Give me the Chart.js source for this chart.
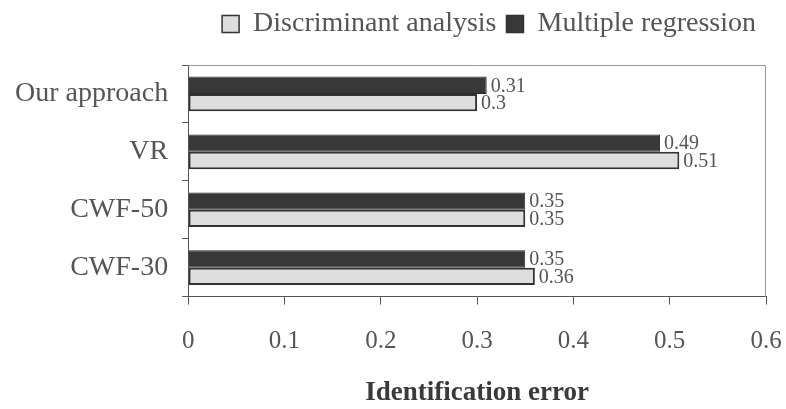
<!DOCTYPE html>
<html>
<head>
<meta charset="utf-8">
<script src="https://cdn.jsdelivr.net/npm/chart.js@4"></script>
<style>
  html, body { margin: 0; padding: 0; background: #fff; }
  #wrap { width: 786px; height: 409px; }
</style>
</head>
<body>
<div id="wrap"><canvas id="error-bar-chart"></canvas></div>
<script>
var categories = ['Our approach', 'VR', 'CWF-50', 'CWF-30'];
var discriminant = [0.3, 0.51, 0.35, 0.36];
var regression = [0.31, 0.49, 0.35, 0.35];
var xTicks = [0, 0.1, 0.2, 0.3, 0.4, 0.5, 0.6];

var serif = 'Liberation Serif';

// a little more room between legend and plot
var legendGap = {
    id: 'legendGap',
    beforeInit: function (chart) {
        var fit = chart.legend.fit;
        chart.legend.fit = function () {
            fit.call(this);
            this.height += 17;
        };
    }
};

// values printed at the end of every bar, plus the thin frame round the plot
var barLabels = {
    id: 'barLabels',
    afterDatasetsDraw: function (chart) {
        var ctx = chart.ctx;
        var area = chart.chartArea;
        ctx.save();
        ctx.strokeStyle = '#9a9a9a';
        ctx.lineWidth = 1;
        ctx.beginPath();
        ctx.moveTo(area.left, area.top + 0.5);
        ctx.lineTo(area.right - 0.5, area.top + 0.5);
        ctx.lineTo(area.right - 0.5, area.bottom);
        ctx.stroke();

        ctx.font = '20px "' + serif + '"';
        ctx.fillStyle = '#555';
        ctx.textAlign = 'left';
        ctx.textBaseline = 'middle';
        chart.data.datasets.forEach(function (ds, i) {
            chart.getDatasetMeta(i).data.forEach(function (bar, j) {
                ctx.fillText(String(ds.data[j]), bar.x + 4, bar.y + 1);
            });
        });
        ctx.restore();
    }
};

function drawErrorChart() {
    var ctx = document.getElementById('error-bar-chart');

    new Chart(ctx, {
        type: 'bar',
        data: {
            labels: categories,
            datasets: [{
                label: 'Multiple regression',
                data: regression,
                backgroundColor: '#383838',
                borderColor: '#2a2a2a',
                borderWidth: 1,
                categoryPercentage: 0.6,
                barPercentage: 1.0
            }, {
                label: 'Discriminant analysis',
                data: discriminant,
                backgroundColor: '#dedede',
                borderColor: '#333',
                borderWidth: 2,
                borderSkipped: false,
                categoryPercentage: 0.6,
                barPercentage: 1.0
            }]
        },
        options: {
            indexAxis: 'y',
            responsive: true,
            maintainAspectRatio: false,
            animation: false,
            layout: { padding: { top: 0, right: 20, bottom: 0, left: 1 } },
            plugins: {
                tooltip: { enabled: false },
                legend: {
                    reverse: true,
                    align: 'end',
                    labels: {
                        font: { family: serif, size: 28 },
                        color: '#555',
                        boxWidth: 17,
                        boxHeight: 17,
                        padding: 10,
                        generateLabels: function (chart) {
                            return chart.data.datasets.map(function (ds, i) {
                                return {
                                    text: ds.label,
                                    fillStyle: ds.backgroundColor,
                                    strokeStyle: '#333',
                                    lineWidth: 1.5,
                                    datasetIndex: i,
                                    fontColor: '#555'
                                };
                            });
                        }
                    }
                }
            },
            scales: {
                x: {
                    min: 0,
                    max: 0.6,
                    afterBuildTicks: function (axis) {
                        axis.ticks = xTicks.map(function (v) { return { value: v }; });
                    },
                    afterFit: function (axis) {
                        // the big label padding should not eat the plot width
                        axis.paddingRight = 0;
                    },
                    grid: { drawOnChartArea: false, tickLength: 8, color: '#555' },
                    border: { color: '#555', width: 1 },
                    ticks: {
                        font: { family: serif, size: 25 },
                        color: '#555',
                        padding: 22,
                        maxRotation: 0,
                        callback: function (v) { return String(v); }
                    },
                    title: {
                        display: true,
                        text: 'Identification error',
                        font: { family: serif, size: 27, weight: 'bold' },
                        color: '#3a3a3a',
                        padding: { top: -2, bottom: 0 }
                    }
                },
                y: {
                    grid: { drawOnChartArea: false, tickLength: 6, offset: true, color: '#555' },
                    border: { color: '#555', width: 1 },
                    ticks: {
                        font: { family: serif, size: 28 },
                        color: '#555',
                        padding: 14
                    }
                }
            }
        },
        plugins: [legendGap, barLabels]
    });
}

drawErrorChart();
</script>
</body>
</html>
